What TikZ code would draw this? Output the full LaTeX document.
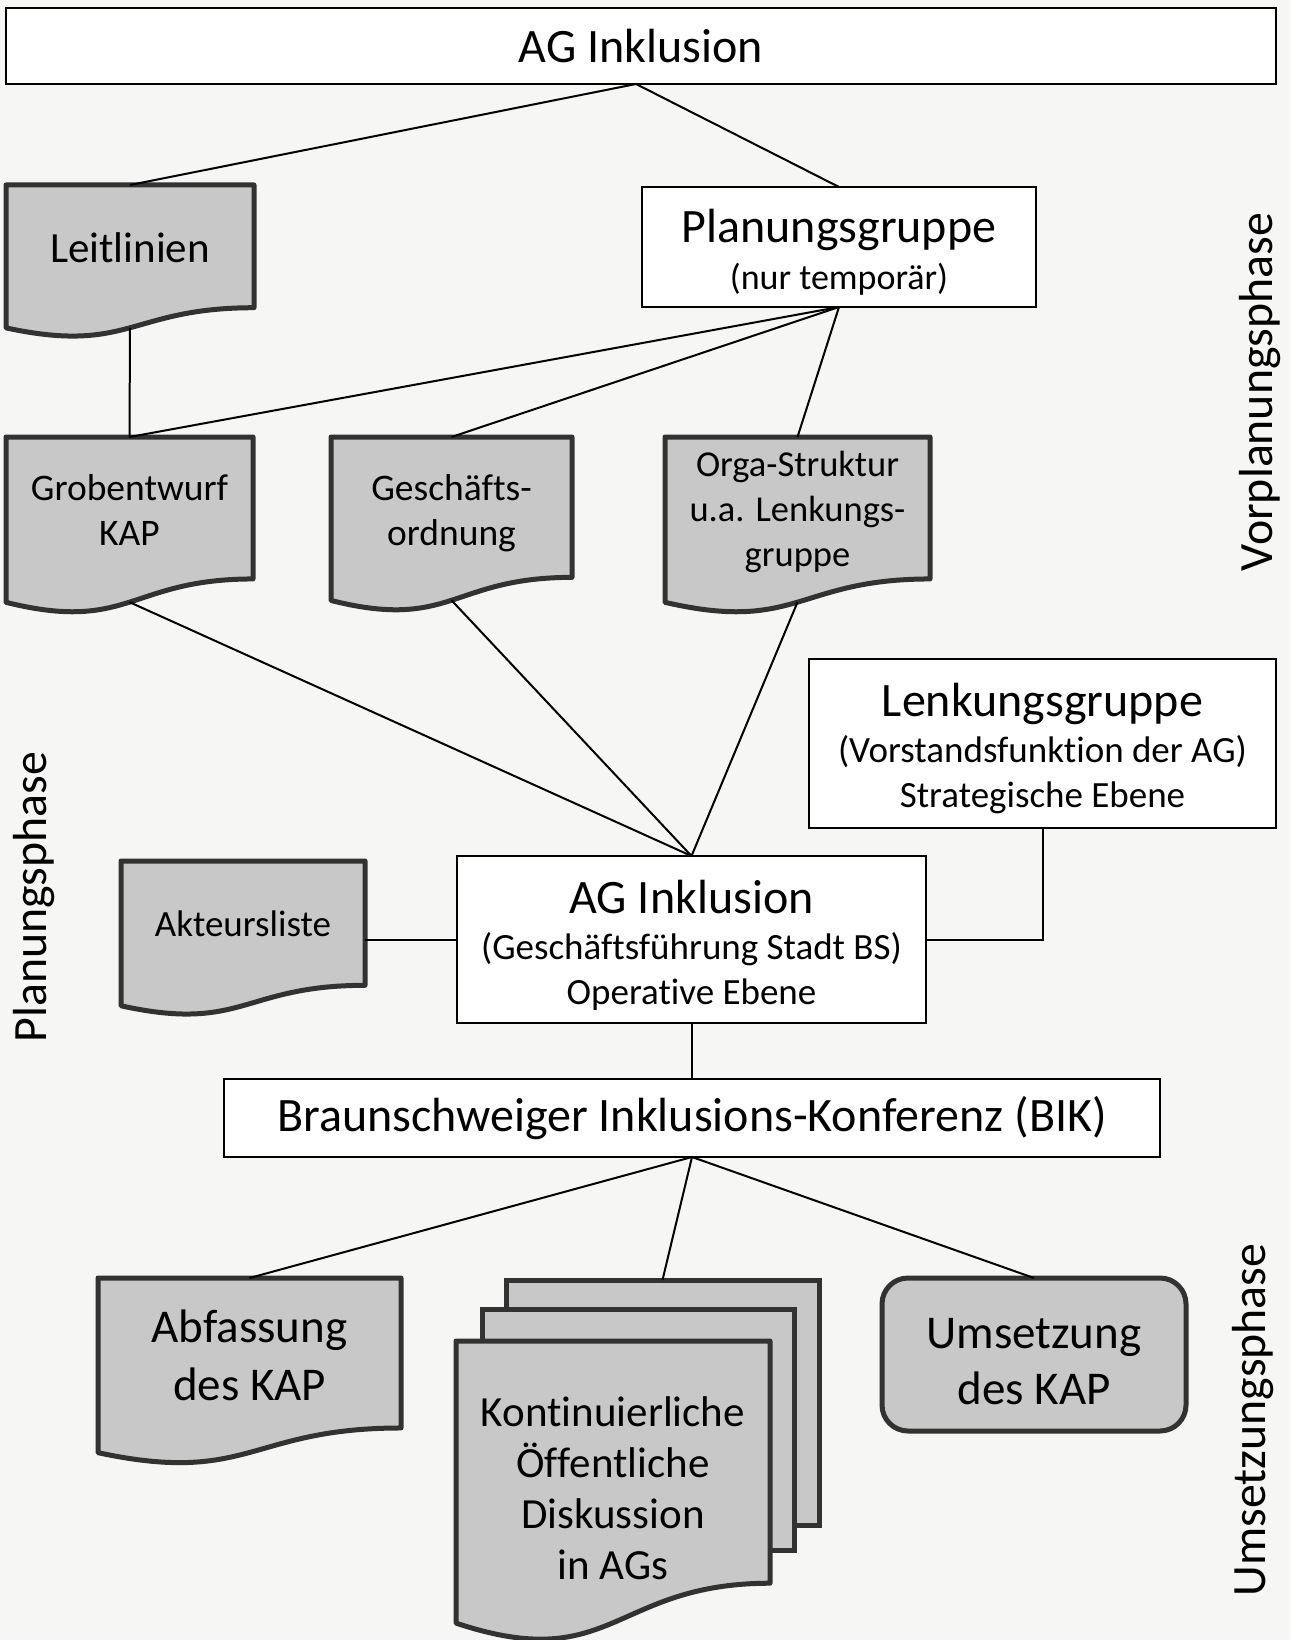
\documentclass[tikz,border=0pt]{standalone}
\usepackage{fontspec}
\setmainfont[Ligatures=NoCommon]{Carlito}
\usetikzlibrary{calc}
\definecolor{paper}{RGB}{246,246,244}
\definecolor{docfill}{RGB}{200,200,200}
\definecolor{docedge}{RGB}{50,50,50}
\tikzset{
  x=1pt, y=1pt,
  plainbox/.style={draw=black, line width=2.5pt, fill=white, inner sep=0pt, outer sep=0pt, align=center},
  docframe/.style={inner sep=0pt, outer sep=0pt},
  docline/.style={draw=docedge, line width=5pt, fill=docfill, line join=round},
  pagebox/.style={draw=docedge, line width=5pt, fill=docfill, inner sep=0pt, outer sep=0pt},
  roundbox/.style={draw=docedge, line width=5pt, fill=docfill, rounded corners=26pt, inner sep=0pt, outer sep=0pt, align=center},
  doctext/.style={align=center, inner sep=0pt},
  sidelabel/.style={rotate=90, anchor=base, inner sep=0pt, font=\fontsize{47.8}{48}\selectfont},
  conn/.style={draw=black, line width=2pt},
}
% name, x1, y1, x2, H
\newcommand{\mydocshape}[5]{%
  \node[docframe, minimum width={#4-#2}, minimum height={#5}, anchor=north west] (#1) at (#2,-#3) {};
  \draw[docline] (#1.north west) -- (#1.north east) -- ($(#1.north east)+(0,-0.802*#5)$)
    .. controls ($(#1.north)+(0,-0.802*#5)$) and ($(#1.north)+(0,-1.1075*#5)$) .. ($(#1.north west)+(0,-0.934*#5)$) -- cycle;
  \coordinate (#1-b) at ($(#1.north)+(0,-0.933*#5)$);
}
\begin{document}
\begin{tikzpicture}
\fill[paper] (0,0) rectangle (1290,-1640);
\useasboundingbox (0,0) rectangle (1290,-1640);

% top box
\node[plainbox, minimum width=1270, minimum height=76, font=\fontsize{48}{50}\selectfont] (top) at (641,-46) {AG Inklusion};

% Planungsgruppe
\node[plainbox, minimum width=394, minimum height=120, font=\fontsize{36}{44}\selectfont] (plan) at (839,-247)
  {{\fontsize{48}{48}\selectfont\rule{0pt}{44pt}Planungsgruppe}\\[3pt](nur temporär)};

% documents row 1/2
\mydocshape{leit}{6}{185}{254}{153}
\node[doctext, font=\fontsize{43}{45}\selectfont] (leit-t) at (130,-248) {Leitlinien};

\mydocshape{grob}{6}{437}{253}{177}
\node[doctext, font=\fontsize{37.5}{45}\selectfont] (grob-t) at (129.5,-510) {Grobentwurf\\KAP};

\mydocshape{gesch}{331}{437}{572}{175}
\node[doctext, font=\fontsize{37.5}{45}\selectfont] (gesch-t) at (451.5,-513.5) {Geschäfts-\\ordnung};

\mydocshape{orga}{665}{437}{930}{177}
\node[doctext, font=\fontsize{36.5}{45}\selectfont] (orga-t) at (797.5,-511.5) {Orga-Struktur\\u.a. Lenkungs-\\gruppe};

% Lenkungsgruppe
\node[plainbox, minimum width=467, minimum height=169, font=\fontsize{37}{45}\selectfont] (lenk) at (1042.5,-743.5)
  {{\fontsize{48}{48}\selectfont\rule{0pt}{44pt}Lenkungsgruppe}\\[1pt](Vorstandsfunktion der AG)\\Strategische Ebene};

% AG middle
\node[plainbox, minimum width=469, minimum height=167, font=\fontsize{37}{45}\selectfont] (agm) at (691.5,-939.5)
  {{\fontsize{48}{48}\selectfont\rule{0pt}{44pt}AG Inklusion}\\[1pt](Geschäftsführung Stadt BS)\\Operative Ebene};

% Akteursliste
\mydocshape{akt}{121}{861}{365}{155}
\node[doctext, font=\fontsize{37}{45}\selectfont] (akt-t) at (243,-924) {Akteursliste};

% BIK
\node[plainbox, minimum width=936, minimum height=78, font=\fontsize{48}{50}\selectfont] (bik) at (692,-1118) {Braunschweiger Inklusions-Konferenz (BIK)};

% Abfassung
\mydocshape{abf}{98}{1278}{401}{187}
\node[doctext, font=\fontsize{47}{58}\selectfont] (abf-t) at (249.5,-1355) {Abfassung\\des KAP};

% multi document
\node[pagebox, minimum width=313, minimum height=245, anchor=north west] (mdback) at (506,-1280) {};
\node[pagebox, minimum width=312, minimum height=241, anchor=north west] (mdmid) at (482,-1309) {};
\mydocshape{mdfront}{456}{1341}{770}{302}
\node[doctext, font=\fontsize{43}{51}\selectfont] (md-t) at (613,-1488) {Kontinuierliche\\Öffentliche\\Diskussion\\in AGs};

% Umsetzung
\node[roundbox, minimum width=304, minimum height=153, font=\fontsize{47}{56}\selectfont] (ums) at (1034,-1354.5)
  {\rule{0pt}{44pt}Umsetzung\\des KAP};

% side labels
\node[sidelabel] (vor) at (1272,-392) {Vorplanungsphase};
\node[sidelabel] (plp) at (46,-897) {Planungsphase};
\node[sidelabel] (ump) at (1265,-1420) {Umsetzungsphase};

% connectors
\draw[conn] ([xshift=-5pt]top.south) -- (leit.north);
\draw[conn] ([xshift=-5pt]top.south) -- (plan.north);
\draw[conn] (leit-b) -- (grob.north);
\draw[conn] (plan.south) -- (grob.north);
\draw[conn] (plan.south) -- (gesch.north);
\draw[conn] (plan.south) -- (orga.north);
\draw[conn] (grob-b) -- (agm.north);
\draw[conn] (gesch-b) -- (agm.north);
\draw[conn] (orga-b) -- (agm.north);
\draw[conn] (lenk.south) |- (agm.east);
\draw[conn] (agm.west) -- (agm.west -| akt.east);
\draw[conn] (agm.south) -- (agm.south |- bik.north);
\draw[conn] (bik.south) -- (abf.north);
\draw[conn] (bik.south) -- (mdback.north);
\draw[conn] (bik.south) -- (ums.north);
\end{tikzpicture}
\end{document}
